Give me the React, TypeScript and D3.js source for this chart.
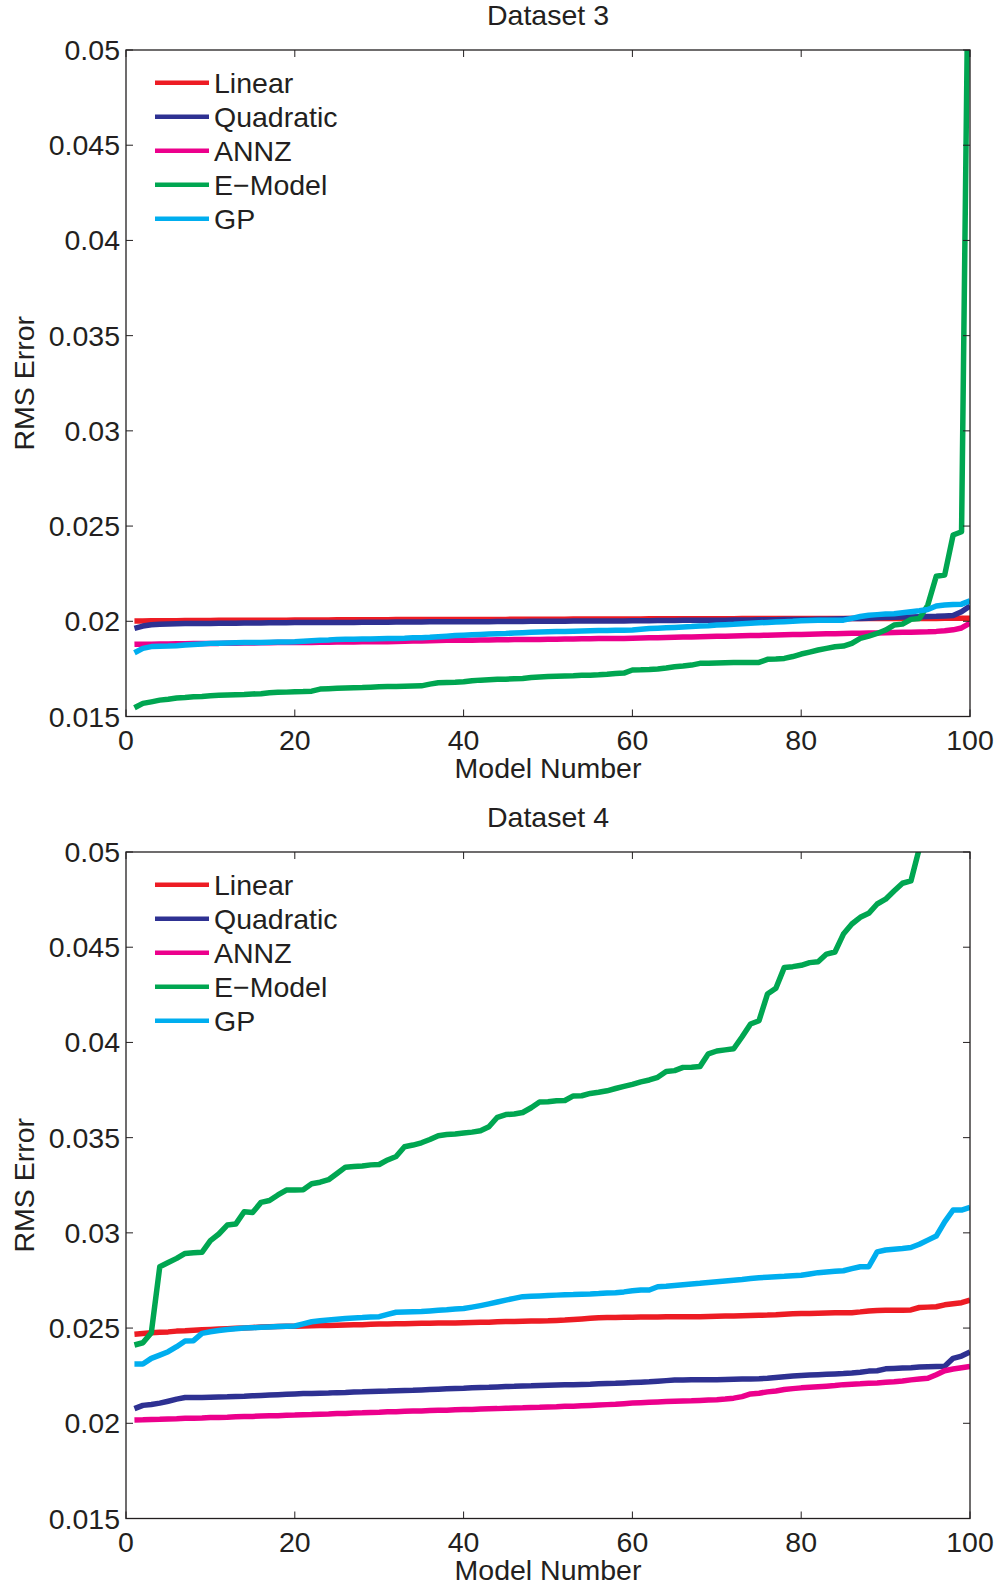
import React from "react";
import * as d3 from "d3";

// ---------- data ----------
const seriesNames = ["Linear", "Quadratic", "ANNZ", "E\u2212Model", "GP"];
const seriesColors = ["#ED1C24", "#2E3192", "#EC008C", "#00A651", "#00AEEF"];

const xTicks = [0, 20, 40, 60, 80, 100];
const yTicks = [0.015, 0.02, 0.025, 0.03, 0.035, 0.04, 0.045, 0.05];
const yTickLabels = ["0.015", "0.02", "0.025", "0.03", "0.035", "0.04", "0.045", "0.05"];

// Dataset 3
const linear3 = [
  0.02002, 0.02002, 0.02003, 0.02003, 0.02003, 0.02003, 0.02004, 0.02004, 0.02004, 0.02004,
  0.02005, 0.02005, 0.02005, 0.02005, 0.02006, 0.02006, 0.02006, 0.02006, 0.02006, 0.02007,
  0.02007, 0.02007, 0.02007, 0.02007, 0.02008, 0.02008, 0.02008, 0.02008, 0.02008, 0.02008,
  0.02008, 0.02009, 0.02009, 0.02009, 0.02009, 0.02009, 0.02009, 0.0201, 0.0201, 0.0201,
  0.0201, 0.0201, 0.0201, 0.0201, 0.0201, 0.02011, 0.02011, 0.02011, 0.02011, 0.02011,
  0.02011, 0.02011, 0.02012, 0.02012, 0.02012, 0.02012, 0.02012, 0.02012, 0.02012, 0.02012,
  0.02012, 0.02013, 0.02013, 0.02013, 0.02013, 0.02013, 0.02013, 0.02013, 0.02013, 0.02013,
  0.02013, 0.02013, 0.02014, 0.02014, 0.02014, 0.02014, 0.02014, 0.02014, 0.02014, 0.02014,
  0.02014, 0.02014, 0.02014, 0.02014, 0.02015, 0.02015, 0.02015, 0.02015, 0.02015, 0.02015,
  0.02015, 0.02015, 0.02015, 0.02015, 0.02015, 0.02015, 0.02016, 0.02016, 0.02016, 0.02016,
];
const quadratic3 = [
  0.01963, 0.01975, 0.01982, 0.01985, 0.01986, 0.01987, 0.01988, 0.01988, 0.01989, 0.01989,
  0.0199, 0.0199, 0.0199, 0.01991, 0.01991, 0.01991, 0.01992, 0.01992, 0.01992, 0.01993,
  0.01993, 0.01993, 0.01993, 0.01994, 0.01994, 0.01994, 0.01994, 0.01995, 0.01995, 0.01995,
  0.01995, 0.01996, 0.01996, 0.01996, 0.01996, 0.01997, 0.01997, 0.01997, 0.01997, 0.01998,
  0.01998, 0.01998, 0.01998, 0.01999, 0.01999, 0.01999, 0.01999, 0.02, 0.02, 0.02,
  0.02, 0.02, 0.02001, 0.02001, 0.02001, 0.02001, 0.02002, 0.02002, 0.02002, 0.02003,
  0.02003, 0.02003, 0.02004, 0.02004, 0.02004, 0.02005, 0.02005, 0.02005, 0.02006, 0.02006,
  0.02006, 0.02007, 0.02007, 0.02007, 0.02008, 0.02008, 0.02008, 0.02009, 0.02009, 0.0201,
  0.0201, 0.02011, 0.02011, 0.02012, 0.02013, 0.02014, 0.02015, 0.02016, 0.02018, 0.0202,
  0.02021, 0.02022, 0.02023, 0.02024, 0.02025, 0.02026, 0.02028, 0.0203, 0.0205, 0.0208,
];
const annz3 = [
  0.01879, 0.0188, 0.0188, 0.01881, 0.01881, 0.01882, 0.01882, 0.01883, 0.01883, 0.01884,
  0.01884, 0.01885, 0.01885, 0.01886, 0.01886, 0.01887, 0.01887, 0.01888, 0.01888, 0.01889,
  0.01889, 0.01889, 0.0189, 0.0189, 0.01891, 0.01891, 0.01891, 0.01892, 0.01892, 0.01893,
  0.01893, 0.01894, 0.01895, 0.01896, 0.01897, 0.01898, 0.01899, 0.019, 0.019, 0.01901,
  0.01901, 0.01902, 0.01902, 0.01903, 0.01903, 0.01904, 0.01904, 0.01905, 0.01905, 0.01906,
  0.01906, 0.01907, 0.01907, 0.01908, 0.01908, 0.01909, 0.01909, 0.0191, 0.0191, 0.01911,
  0.01912, 0.01913, 0.01914, 0.01915, 0.01916, 0.01917, 0.01918, 0.01919, 0.0192, 0.01921,
  0.01922, 0.01923, 0.01924, 0.01925, 0.01926, 0.01927, 0.01928, 0.01929, 0.0193, 0.01931,
  0.01932, 0.01933, 0.01934, 0.01935, 0.01936, 0.01937, 0.01937, 0.01938, 0.01939, 0.0194,
  0.01941, 0.01942, 0.01943, 0.01944, 0.01945, 0.01947, 0.0195, 0.01955, 0.01965, 0.0199,
];
const emodel3 = [
  0.01546, 0.01569, 0.01577, 0.01586, 0.01591, 0.01597, 0.016, 0.01604, 0.01605, 0.01609,
  0.01611, 0.01613, 0.01614, 0.01615, 0.01618, 0.0162, 0.01625, 0.01627, 0.01628, 0.0163,
  0.01631, 0.01633, 0.01644, 0.01646, 0.01648, 0.0165, 0.01651, 0.01652, 0.01654, 0.01656,
  0.01657, 0.01658, 0.01659, 0.0166, 0.01661, 0.0167, 0.01677, 0.01679, 0.0168, 0.01682,
  0.01688, 0.01691, 0.01693, 0.01695, 0.01696, 0.01698, 0.017, 0.01705, 0.01708, 0.0171,
  0.01712, 0.01713, 0.01714, 0.01716, 0.01717, 0.01719, 0.01722, 0.01726, 0.01728, 0.01744,
  0.01745, 0.01747, 0.0175, 0.01755, 0.01761, 0.01765, 0.0177, 0.01779, 0.0178, 0.01781,
  0.01782, 0.01783, 0.01783, 0.01784, 0.01784, 0.018, 0.01802, 0.01805, 0.01815, 0.01828,
  0.01838, 0.01849, 0.01858, 0.01866, 0.0187, 0.01884, 0.0191, 0.01922, 0.01936, 0.01954,
  0.0198, 0.01985, 0.0201, 0.02015, 0.02085, 0.02237, 0.02243, 0.02453, 0.0247, 0.063,
];
const gp3 = [
  0.01835, 0.01858, 0.01867, 0.01869, 0.0187, 0.01872, 0.01875, 0.01878, 0.01881, 0.01884,
  0.01885, 0.01886, 0.01887, 0.01888, 0.01889, 0.01889, 0.0189, 0.01891, 0.01891, 0.01892,
  0.01895, 0.01898, 0.019, 0.01902, 0.01905, 0.01906, 0.01906, 0.01907, 0.01907, 0.01908,
  0.01909, 0.0191, 0.01911, 0.01913, 0.01914, 0.01916, 0.01919, 0.01922, 0.01925, 0.01927,
  0.01929, 0.01931, 0.01933, 0.01935, 0.01936, 0.01938, 0.0194, 0.01942, 0.01944, 0.01945,
  0.01946, 0.01947, 0.01948, 0.01949, 0.0195, 0.01951, 0.01952, 0.01953, 0.01953, 0.01954,
  0.01958, 0.01962, 0.01964, 0.01966, 0.01968, 0.0197, 0.01972, 0.01975, 0.01977, 0.0198,
  0.01982, 0.01984, 0.01987, 0.0199, 0.01992, 0.01994, 0.01996, 0.01998, 0.02, 0.02003,
  0.02004, 0.02005, 0.02005, 0.02005, 0.02006, 0.02015, 0.02025, 0.02032, 0.02035, 0.02038,
  0.0204, 0.02045, 0.0205, 0.02055, 0.02062, 0.0208, 0.02085, 0.02088, 0.0209, 0.02108,
];

// Dataset 4
const linear4 = [
  0.02468, 0.02472, 0.02475, 0.02478, 0.0248, 0.02484, 0.02486, 0.02489, 0.02491, 0.02493,
  0.02495, 0.02497, 0.02499, 0.02501, 0.02503, 0.02505, 0.02507, 0.02508, 0.02509, 0.0251,
  0.02511, 0.02512, 0.02513, 0.02514, 0.02515, 0.02516, 0.02517, 0.02518, 0.0252, 0.02521,
  0.02522, 0.02523, 0.02523, 0.02524, 0.02525, 0.02525, 0.02526, 0.02527, 0.02527, 0.02528,
  0.02529, 0.0253, 0.02531, 0.02533, 0.02534, 0.02535, 0.02536, 0.02537, 0.02537, 0.02538,
  0.0254, 0.02542, 0.02545, 0.02548, 0.02551, 0.02554, 0.02555, 0.02556, 0.02557, 0.02557,
  0.02558, 0.02558, 0.02558, 0.02559, 0.02559, 0.0256, 0.0256, 0.0256, 0.02561, 0.02562,
  0.02563, 0.02564, 0.02565, 0.02566, 0.02567, 0.02568, 0.0257, 0.02573, 0.02575, 0.02576,
  0.02577, 0.02578, 0.02579, 0.0258, 0.0258, 0.02581, 0.02585, 0.0259, 0.02592, 0.02593,
  0.02594, 0.02594, 0.02595, 0.02608, 0.0261, 0.02612, 0.02622, 0.02628, 0.02633, 0.02647,
];
const quadratic4 = [
  0.02077, 0.02094, 0.02099, 0.02106, 0.02116, 0.02127, 0.02135, 0.02136, 0.02136, 0.02137,
  0.02138, 0.02139, 0.02141, 0.02142, 0.02144, 0.02146, 0.02148, 0.0215, 0.02152, 0.02154,
  0.02156, 0.02157, 0.02158, 0.02159, 0.02161, 0.02162, 0.02164, 0.02165, 0.02167, 0.02168,
  0.02169, 0.02171, 0.02172, 0.02173, 0.02175, 0.02177, 0.02179, 0.02181, 0.02183, 0.02184,
  0.02186, 0.02188, 0.02189, 0.02191, 0.02193, 0.02194, 0.02196, 0.02197, 0.02199, 0.022,
  0.02201, 0.02202, 0.02203, 0.02204, 0.02205, 0.02207, 0.02209, 0.0221, 0.02212, 0.02214,
  0.02216, 0.02218, 0.02221, 0.02224, 0.02227, 0.02227, 0.02228, 0.02228, 0.02229, 0.02229,
  0.0223, 0.02231, 0.02232, 0.02233, 0.02234, 0.02236, 0.0224, 0.02244, 0.02248, 0.02251,
  0.02253, 0.02255, 0.02257, 0.02259, 0.02261, 0.02264, 0.02268, 0.02274, 0.02276, 0.02286,
  0.02288, 0.0229, 0.02292, 0.02295, 0.02297, 0.02298, 0.02299, 0.02341, 0.02353, 0.02374,
];
const annz4 = [
  0.02017, 0.02018, 0.0202, 0.02021, 0.02023, 0.02024, 0.02026, 0.02027, 0.02028, 0.0203,
  0.02031, 0.02032, 0.02034, 0.02035, 0.02036, 0.02038, 0.02039, 0.0204, 0.02042, 0.02043,
  0.02045, 0.02046, 0.02048, 0.02049, 0.02051, 0.02052, 0.02054, 0.02055, 0.02057, 0.02058,
  0.0206, 0.02061, 0.02063, 0.02064, 0.02065, 0.02067, 0.02068, 0.02069, 0.02071, 0.02072,
  0.02073, 0.02075, 0.02076, 0.02077, 0.02079, 0.0208, 0.02081, 0.02083, 0.02084, 0.02086,
  0.02087, 0.02089, 0.0209, 0.02092, 0.02094, 0.02096, 0.02098, 0.021, 0.02103, 0.02106,
  0.02108, 0.0211, 0.02112, 0.02114, 0.02116, 0.02117, 0.02118, 0.0212, 0.02122, 0.02124,
  0.02127, 0.02132, 0.0214, 0.02154, 0.02158, 0.02165, 0.0217, 0.02177, 0.02182, 0.02186,
  0.02189, 0.02192, 0.02195, 0.02198, 0.02203, 0.02205, 0.02207, 0.0221, 0.02212, 0.02215,
  0.02218, 0.02222, 0.02228, 0.02232, 0.02236, 0.02255, 0.02276, 0.02285, 0.02292, 0.02299,
];
const emodel4 = [
  0.02411, 0.02423, 0.02476, 0.02822, 0.02844, 0.02866, 0.02892, 0.02896, 0.02898, 0.02959,
  0.02994, 0.03041, 0.03046, 0.03111, 0.03107, 0.0316, 0.0317, 0.03199, 0.03225, 0.03225,
  0.03227, 0.03258, 0.03266, 0.03279, 0.03312, 0.03345, 0.03348, 0.03351, 0.03357, 0.03359,
  0.03383, 0.03401, 0.03452, 0.03461, 0.03473, 0.0349, 0.0351, 0.03516, 0.03519, 0.03524,
  0.03529, 0.03536, 0.03557, 0.03607, 0.03621, 0.03624, 0.03632, 0.03657, 0.03687, 0.03689,
  0.03694, 0.03695, 0.03719, 0.0372, 0.03732, 0.03738, 0.03746, 0.03758, 0.03769, 0.0378,
  0.03793, 0.03803, 0.03817, 0.03847, 0.03852, 0.03869, 0.0387, 0.03873, 0.0394, 0.03955,
  0.03961, 0.03967, 0.0403, 0.04097, 0.04114, 0.04254, 0.04284, 0.04394, 0.04398, 0.04405,
  0.04419, 0.04424, 0.04464, 0.04475, 0.04569, 0.04622, 0.04657, 0.04678, 0.04727, 0.04752,
  0.04795, 0.04836, 0.04848, 0.0502, 0.0525, 0.054, 0.0555, 0.057, 0.059, 0.062,
];
const gp4 = [
  0.02311, 0.02311, 0.02341, 0.02358, 0.02376, 0.02402, 0.02432, 0.02434, 0.02472, 0.02481,
  0.02487, 0.02493, 0.02497, 0.025, 0.02502, 0.02504, 0.02506, 0.02508, 0.0251, 0.02511,
  0.02522, 0.02533, 0.02538, 0.02542, 0.02546, 0.0255, 0.02553, 0.02555, 0.02558, 0.0256,
  0.02572, 0.02583, 0.02585, 0.02586, 0.02587, 0.0259, 0.02593, 0.02596, 0.026, 0.02603,
  0.0261, 0.02618, 0.02627, 0.02637, 0.02647, 0.02656, 0.02665, 0.02667, 0.02669, 0.02671,
  0.02673, 0.02675, 0.02676, 0.02678, 0.02679, 0.02681, 0.02684, 0.02686, 0.0269, 0.02696,
  0.027, 0.027, 0.02717, 0.0272, 0.02724, 0.02728, 0.02732, 0.02735, 0.02739, 0.02743,
  0.02747, 0.02751, 0.02755, 0.0276, 0.02764, 0.02767, 0.0277, 0.02772, 0.02775, 0.02777,
  0.02784, 0.02791, 0.02795, 0.02798, 0.02801, 0.02812, 0.02822, 0.02822, 0.029, 0.0291,
  0.02914, 0.02918, 0.02923, 0.0294, 0.02962, 0.02983, 0.03058, 0.0312, 0.0312, 0.03134,
];

const panelTitles = ["Dataset 3", "Dataset 4"];
const panelSeries = [
  [linear3, quadratic3, annz3, emodel3, gp3],
  [linear4, quadratic4, annz4, emodel4, gp4],
];

// ---------- layout ----------
const W = 1000;
const H = 1587;
const LEFT = 126;
const RIGHT = 970;
const panelTops = [50, 852];
const PANEL_H = 666.5;
const FONT = "'Liberation Sans', Arial, Helvetica, sans-serif";
const FS = 28.5;
const TEXT = "#231F20";
const AXIS = "#231F20";

const xScale = d3.scaleLinear().domain([0, 100]).range([LEFT, RIGHT]);

function Panel({ idx }: { idx: number }) {
  const top = panelTops[idx];
  const bottom = top + PANEL_H;
  const y = d3.scaleLinear().domain([0.015, 0.05]).range([bottom, top]);
  const line = d3
    .line<number>()
    .x((_, i) => xScale(i + 1))
    .y((d) => y(d));
  const clipId = `clip-${idx}`;
  const tickLen = 7;
  return (
    <g>
      <defs>
        <clipPath id={clipId}>
          <rect x={LEFT} y={top} width={RIGHT - LEFT} height={bottom - top} />
        </clipPath>
      </defs>
      <text x={(LEFT + RIGHT) / 2} y={top - 25} textAnchor="middle" fontSize={FS} fill={TEXT} fontFamily={FONT}>
        {panelTitles[idx]}
      </text>
      {/* lines */}
      <g clipPath={`url(#${clipId})`}>
        {panelSeries[idx].map((s, k) => (
          <path
            key={k}
            d={line(s) || ""}
            fill="none"
            stroke={seriesColors[k]}
            strokeWidth={5.5}
            strokeLinejoin="round"
          />
        ))}
      </g>
      {/* frame */}
      <rect x={LEFT} y={top} width={RIGHT - LEFT} height={bottom - top} fill="none" stroke={AXIS} strokeWidth={1.3} />
      {/* x ticks */}
      {xTicks.map((t) => (
        <g key={`x${t}`}>
          <line x1={xScale(t)} x2={xScale(t)} y1={bottom} y2={bottom - tickLen} stroke={AXIS} strokeWidth={1} />
          <line x1={xScale(t)} x2={xScale(t)} y1={top} y2={top + tickLen} stroke={AXIS} strokeWidth={1} />
          <text x={xScale(t)} y={bottom + 33} textAnchor="middle" fontSize={FS} fill={TEXT} fontFamily={FONT}>
            {t}
          </text>
        </g>
      ))}
      {/* y ticks */}
      {yTicks.map((t, i) => (
        <g key={`y${i}`}>
          <line x1={LEFT} x2={LEFT + tickLen} y1={y(t)} y2={y(t)} stroke={AXIS} strokeWidth={1} />
          <line x1={RIGHT} x2={RIGHT - tickLen} y1={y(t)} y2={y(t)} stroke={AXIS} strokeWidth={1} />
          <text x={LEFT - 6} y={y(t) + 10} textAnchor="end" fontSize={FS} fill={TEXT} fontFamily={FONT}>
            {yTickLabels[i]}
          </text>
        </g>
      ))}
      {/* axis labels */}
      <text x={(LEFT + RIGHT) / 2} y={bottom + 61} textAnchor="middle" fontSize={FS} fill={TEXT} fontFamily={FONT}>
        Model Number
      </text>
      <text
        transform={`translate(34, ${(top + bottom) / 2}) rotate(-90)`}
        textAnchor="middle"
        fontSize={FS}
        fill={TEXT}
        fontFamily={FONT}
      >
        RMS Error
      </text>
      {/* legend */}
      {seriesNames.map((n, k) => {
        const ly = top + 32.7 + k * 34;
        return (
          <g key={n}>
            <line x1={155} x2={209} y1={ly} y2={ly} stroke={seriesColors[k]} strokeWidth={4.5} />
            <text x={214} y={ly + 10} fontSize={FS} fill={TEXT} fontFamily={FONT}>
              {n}
            </text>
          </g>
        );
      })}
    </g>
  );
}

export default function App() {
  return (
    <svg
      width={W}
      height={H}
      viewBox={`0 0 ${W} ${H}`}
      style={{ position: "absolute", left: 0, top: 0, background: "#fff" }}
    >
      <rect x={0} y={0} width={W} height={H} fill="#fff" />
      <Panel idx={0} />
      <Panel idx={1} />
    </svg>
  );
}
